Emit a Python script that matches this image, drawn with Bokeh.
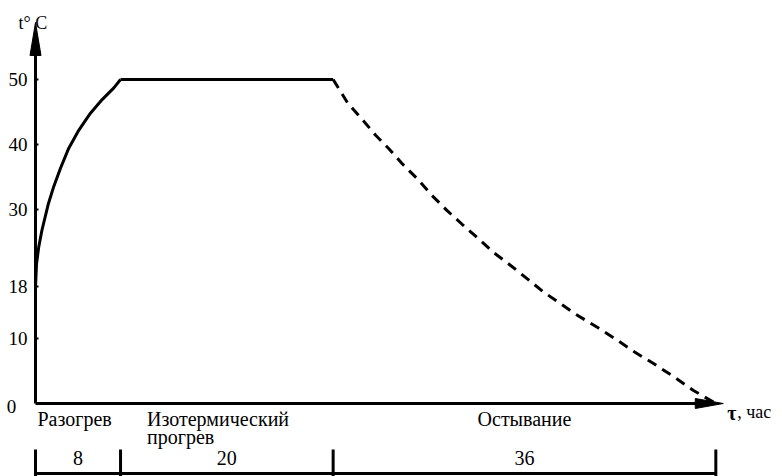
from bokeh.plotting import figure
from bokeh.models import LinearAxis, FixedTicker, ColumnDataSource
from bokeh.core.properties import value
from bokeh.embed import file_html
from bokeh.resources import INLINE

# ---------------- data ----------------
phase_names = ["Разогрев", "Изотермический\nпрогрев", "Остывание"]
phase_hours = [8, 20, 36]
y_ticks = [10, 18, 30, 40, 50]

heat_t = [0, 0.1, 0.3, 0.6, 1.19, 1.72, 2.35, 3.13, 4.08, 5.17, 6.27, 7.37, 8.0]
heat_T = [18, 21.6, 24.1, 26.7, 30.7, 33.5, 36.3, 39.4, 42.2, 44.8, 46.9, 48.7, 50]

iso_t = [8, 28]
iso_T = [50, 50]

cool_t = [28, 29.4, 30.6, 32.0, 33.2, 34.5, 35.9, 37.3, 38.7, 40.1, 41.7, 43.1,
          44.7, 46.3, 47.8, 49.4, 50.8, 53.0, 54.8, 56.4, 58.1, 59.9, 61.9, 64]
cool_T = [50, 46.3, 44.1, 41.4, 39.4, 37.0, 34.7, 32.1, 29.8, 27.7, 25.4, 23.3,
          21.3, 19.2, 17.2, 15.4, 13.8, 11.6, 9.7, 7.9, 6.2, 4.3, 2.0, 0]

# ---------------- layout ----------------
W, H = 782, 476
PX_H = 10.63      # pixels per hour
PX_D = 6.48       # pixels per degree
ORIG_X, ORIG_Y = 35, 403   # origin inside the frame (px from left/top)

x0 = -ORIG_X / PX_H
x1 = x0 + W / PX_H
y1 = ORIG_Y / PX_D
y0 = y1 - H / PX_D

FNAME = "'Liberation Serif'"
FONT = value(FNAME)
FS = "19px"
FS_L = "20px"

p = figure(width=W, height=H, x_range=(x0, x1), y_range=(y0, y1),
           x_axis_type=None, y_axis_type=None, min_border=0,
           toolbar_location=None, output_backend="svg",
           outline_line_color=None, background_fill_color="white")
p.xgrid.visible = False
p.ygrid.visible = False

total = sum(phase_hours)
x_tip = total + 0.7
y_tip = 58.8

# axes
yax = LinearAxis(fixed_location=0, bounds=(0, y_tip - 3),
                 ticker=FixedTicker(ticks=y_ticks),
                 axis_line_width=3, axis_line_color="black",
                 major_tick_in=3, major_tick_out=0, minor_tick_line_color=None,
                 major_tick_line_color="black", major_tick_line_width=2,
                 major_label_standoff=8,
                 major_label_text_font=FNAME,
                 major_label_text_font_size=FS,
                 major_label_text_color="black")
p.add_layout(yax, "left")

xax = LinearAxis(fixed_location=0, bounds=(0, x_tip - 2),
                 ticker=FixedTicker(ticks=[]),
                 axis_line_width=3, axis_line_color="black",
                 major_tick_line_color=None, minor_tick_line_color=None,
                 major_label_text_font_size="0px")
p.add_layout(xax, "below")

# arrow heads
ah_len_y = 33 / PX_D
ah_half_y = 5.5 / PX_H
p.patch([-ah_half_y, 0, ah_half_y], [y_tip - ah_len_y, y_tip, y_tip - ah_len_y],
        color="black")
ah_len_x = 28 / PX_H
ah_half_x = 5 / PX_D
p.patch([x_tip - ah_len_x, x_tip, x_tip - ah_len_x], [ah_half_x, 0, -ah_half_x],
        color="black")

# "0" at origin
p.text([0], [0], text=["0"], x_offset=-24, y_offset=3, text_font=FONT,
       text_font_size=FS, text_align="center", text_baseline="middle",
       text_color="black")

# axis titles
p.text([0], [y_tip], text=["t° C"], x_offset=-17, y_offset=1, text_font=FONT,
       text_font_size="18px", text_align="left", text_baseline="middle",
       text_color="black")
p.text([x_tip], [0], text=["τ"], x_offset=4, y_offset=9, text_font=FONT,
       text_font_size="20px", text_font_style="bold", text_align="left",
       text_baseline="middle", text_color="black")
p.text([x_tip], [0], text=[", час"], x_offset=14, y_offset=8, text_font=FONT,
       text_font_size="18px", text_align="left",
       text_baseline="middle", text_color="black")

# curves
p.line(heat_t, heat_T, line_color="black", line_width=3)
p.line(iso_t, iso_T, line_color="black", line_width=3)
p.line(cool_t, cool_T, line_color="black", line_width=3, line_dash="10 7")

# phase boundaries
bounds = [0]
for h in phase_hours:
    bounds.append(bounds[-1] + h)

# phase names below the axis
name_x = [bounds[0], bounds[1] + 2.3, (bounds[2] + bounds[3]) / 2]
name_align = ["left", "left", "center"]
for nx, nm, al in zip(name_x, phase_names, name_align):
    lines = nm.split("\n")
    for k, ln in enumerate(lines):
        p.text([nx], [0], text=[ln], x_offset=2 if al == "left" else 0,
               y_offset=15 + 18 * k, text_font=FONT, text_font_size=FS_L,
               text_align=al, text_baseline="middle", text_color="black")

# dimension line
dim_y = -70 / PX_D
tick_top = -46 / PX_D
tick_bot = -73 / PX_D
p.line([bounds[0], bounds[-1]], [dim_y, dim_y], line_color="black", line_width=3)
p.segment(x0=bounds, y0=[tick_top] * len(bounds), x1=bounds,
          y1=[tick_bot] * len(bounds), line_color="black", line_width=3)
mids = [(a + b) / 2 for a, b in zip(bounds[:-1], bounds[1:])]
src = ColumnDataSource(dict(x=mids, y=[dim_y] * len(mids),
                            t=[str(h) for h in phase_hours]))
p.text("x", "y", text="t", source=src, y_offset=-16, text_font=FONT,
       text_font_size=FS_L, text_align="center", text_baseline="middle",
       text_color="black")

open("out.html", "w").write(file_html(p, INLINE))
